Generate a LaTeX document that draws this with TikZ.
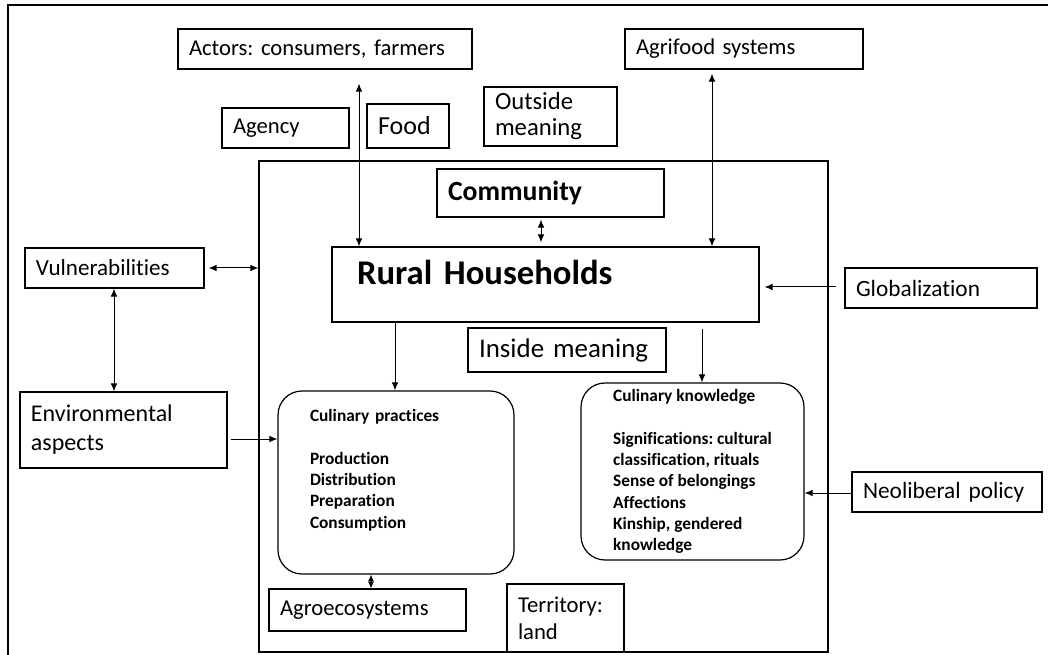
\documentclass[tikz,border=0pt]{standalone}
\usepackage{fontspec}
\setmainfont{Carlito}[Ligatures=NoCommon]
\usetikzlibrary{arrows.meta,calc}
\tikzset{
  pbox/.style={draw, line width=0.9pt, rectangle, inner ysep=0pt, inner xsep=8.25pt, align=left},
  rbox/.style={draw, line width=0.9pt, rounded corners=18pt, inner ysep=0pt, align=left,
    font=\fontsize{13}{16}\selectfont\bfseries},
  tip/.tip={Latex[length=6pt,width=5pt]},
  dbl/.style={line width=0.75pt, tip-tip},
  sgl/.style={line width=0.75pt, -tip},
  dia/.style={line width=0.75pt, {Latex[length=5pt,width=4.5pt]}-{Latex[length=5pt,width=4.5pt]}},
  frameline/.style={draw, line width=1.1pt}
}
% \mybox[opts]{name}{x1}{y1}{x2}{y2}{text}
\newcommand\mybox[7][]{%
  \pgfmathsetlengthmacro\pbw{(#5-#3)*0.75pt}%
  \pgfmathsetlengthmacro\pbh{(#6-#4)*0.75pt}%
  \pgfmathsetlengthmacro\pbt{(#5-#3)*0.75pt-16.5pt}%
  \node[pbox, minimum width=\pbw, minimum height=\pbh, text width=\pbt, #1] (#2)
    at ({(#3+#5)/2},{(#4+#6)/2}) {#7};}
\begin{document}
\frenchspacing
\begin{tikzpicture}[x=0.75pt,y=-0.75pt]
\useasboundingbox (0,0) rectangle (1048,655);
\clip (0,0) rectangle (1048,655);
% outer frame (only top and left edges are visible)
\draw[frameline] (8,5) rectangle (1100,720);
% inner frame
\mybox{inner}{259}{161}{828}{652}{}
% boxes
\mybox[font=\fontsize{17}{20}\selectfont]{actors}{178}{29}{472}{69}{Actors: consumers, farmers}
\mybox[font=\fontsize{17}{20}\selectfont]{agri}{625}{29}{863}{69}{Agrifood systems}
\mybox[font=\fontsize{17}{20}\selectfont]{agency}{222}{108}{349}{148}{Agency}
\mybox[font=\fontsize{19.5}{23}\selectfont]{food}{367}{104}{449}{148}{Food}
\mybox[font=\fontsize{18.5}{19.5}\selectfont]{outside}{484}{87}{617}{146}{Outside\\meaning}
\mybox[font=\fontsize{20.8}{24}\selectfont\bfseries]{community}{437}{169}{664}{217}{Community}
\mybox[font=\fontsize{26}{30}\selectfont\bfseries, inner xsep=18.75pt, text width=282.75pt,
  text height=13pt, text depth=13pt]{rh}{332}{247}{759}{322}{Rural Households}
\mybox[font=\fontsize{17.3}{20}\selectfont]{vul}{25}{248}{204}{288}{Vulnerabilities}
\mybox[font=\fontsize{17.5}{20}\selectfont]{glob}{845}{268}{1037}{308}{Globalization}
\mybox[font=\fontsize{18}{21.75}\selectfont]{env}{20}{392}{227}{468}{Environmental\\aspects}
\mybox[font=\fontsize{20.2}{24}\selectfont]{inside}{468}{328}{666}{372}{Inside meaning}
\mybox[font=\fontsize{17.5}{20}\selectfont]{neo}{852}{472}{1042}{512}{Neoliberal policy}
\mybox[font=\fontsize{17}{20}\selectfont]{agro}{269}{589}{466}{631}{Agroecosystems}
\mybox[font=\fontsize{17}{20.25}\selectfont]{terr}{507}{584}{624}{652}{Territory:\\land}
% rounded boxes
\node[rbox, minimum width=177pt, minimum height=137.25pt, text width=129pt, inner xsep=24pt]
  (cp) at (396,482.5)
  {Culinary practices\\[16pt]Production\\Distribution\\Preparation\\Consumption\\ \strut};
\node[rbox, minimum width=167.25pt, minimum height=132.75pt, inner xsep=0pt]
  (ck) at (692.5,471.5)
  {Culinary knowledge\\[16pt]Significations: cultural\\classification, rituals\\Sense of belongings\\Affections\\Kinship, gendered\\knowledge};
% connectors
\draw[dbl, shorten <=10.5pt] ($(actors.south)+(34,0)$) -- ($(rh.north)+(-186.5,0)$);
\draw[dbl, shorten <=3pt] ($(agri.south)+(-32,0)$) -- ($(rh.north)+(166.5,0)$);
\draw[dbl, shorten <=1.5pt, shorten >=3pt] ($(community.south)+(-9.5,0)$) -- ($(rh.north)+(-4.5,0)$);
\draw[dbl, shorten <=3pt] (vul.east) -- (vul.east -| inner.west);
\draw[dbl] ($(vul.south)+(-0.5,0)$) -- ($(env.north)+(-9.5,0)$);
\draw[sgl, shorten <=2.25pt] ($(env.east)+(0,9)$) -- ($(cp.west)+(0,-43.5)$);
\draw[sgl] ($(rh.south)+(-150.5,0)$) -- ($(cp.north)+(-1,0)$);
\draw[sgl, shorten <=4.5pt] ($(rh.south)+(156.5,0)$) -- ($(ck.north)+(9.5,0)$);
\draw[sgl, shorten <=6pt, shorten >=3.75pt] ($(glob.west)+(0,-1)$) -- ($(rh.east)+(0,2.5)$);
\draw[sgl] ($(neo.west)+(0,1)$) -- ($(ck.east)+(0,21.5)$);
\draw[dia] ($(cp.south)+(-25,0)$) -- ($(agro.north)+(3.5,0)$);
\end{tikzpicture}
\end{document}
